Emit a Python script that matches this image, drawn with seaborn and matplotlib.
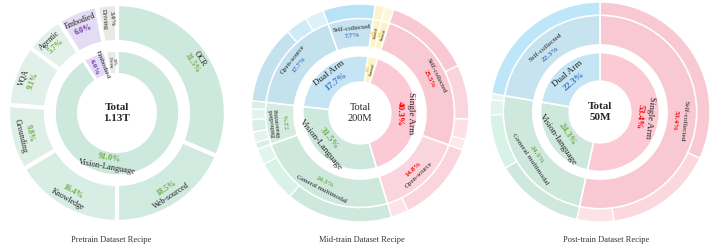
import numpy as np
import matplotlib
matplotlib.use("Agg")
import matplotlib.pyplot as plt
import seaborn as sns

sns.set_theme(style="white")
plt.rcParams['font.family'] = ['Liberation Serif', 'DejaVu Serif']

# ---------------- data ----------------
# Pretrain
pre_inner_names = ["Vision-Language", "Embodied", "Driving"]
pre_inner_vals = [91.0, 6.0, 3.0]
pre_inner_pct = ["91.0%", "6.0%", "3.0%"]
pre_outer_names = ["OCR", "Web-sourced", "Knowledge", "Grounding", "VQA", "Agentic", "Embodied", "Driving"]
pre_outer_vals = [31.5, 18.5, 16.4, 9.8, 9.1, 5.7, 6.0, 3.0]
pre_outer_pct = ["31.5%", "18.5%", "16.4%", "9.8%", "9.1%", "5.7%", "6.0%", "3.0%"]

# Mid-train
mid_inner_names = ["Humanoid", "Single Arm", "Vision-Language", "Dual Arm"]
mid_inner_vals = [2.8, 40.3, 31.5, 25.4]
mid_inner_pct = ["2.8%", "40.3%", "31.5%", "17.7%"]
mid_mid_names = ["Humanoid", "Humanoid", "Self-collected", "Open-source", "General multimodal",
                 "Embodied\nReasoning", "Open-source", "Self-collected"]
mid_mid_vals = [1.4, 1.4, 25.5, 14.8, 24.3, 7.2, 17.7, 7.7]
mid_mid_pct = ["1.4%", "1.4%", "25.5%", "14.8%", "24.3%", "7.2%", "17.7%", "7.7%"]
mid_outer_vals = [1.4, 1.4, 12.8, 8.1, 3.0, 1.6, 12.2, 2.6, 15.8, 6.1, 2.4,
                  1.0, 1.6, 1.8, 1.6, 1.2, 11.6, 3.3, 2.8, 7.7]

# Post-train
post_inner_names = ["Single Arm", "Vision-language", "Dual Arm"]
post_inner_vals = [53.4, 24.3, 22.3]
post_inner_pct = ["53.4%", "24.3%", "22.3%"]
post_mid_names = ["Self-collected", "General multimodal", "Self-collected"]
post_mid_vals = [53.4, 24.3, 22.3]
post_mid_pct = ["53.4%", "24.3%", "22.3%"]
post_outer_vals = [31.9, 16.1, 5.4, 13.1, 8.1, 2.2, 0.9, 22.3]

titles = ["Pretrain Dataset Recipe", "Mid-train Dataset Recipe", "Post-train Dataset Recipe"]
totals = ["Total\n1.13T", "Total\n200M", "Total\n50M"]

# ---------------- style ----------------
GREEN, PURPLE, BLUE, RED, YEL = "#70ad47", "#7030a0", "#4472c4", "#ff0000", "#ffc000"
PX = 110.0  # pixels per data unit


def ring(ax, vals, r_in, r_out, start, colors, lw):
    ax.pie(vals, radius=r_out, startangle=start, counterclock=False, colors=colors,
           wedgeprops=dict(width=r_out - r_in, edgecolor='white', linewidth=lw))


def mid_angles(vals, start):
    edges = start - 360 * np.cumsum([0] + list(vals)) / sum(vals)
    return (edges[:-1] + edges[1:]) / 2


def put_label(ax, ang, r, span, name, pct, pcol, size):
    arc = np.deg2rad(span) * r * PX
    radial = arc < 22
    nl = name.count("\n") + 1
    if radial:
        rot = (ang + 180) % 360 - 180
        if rot > 90:
            rot -= 180
        elif rot < -90:
            rot += 180
        size = min(size, arc / ((nl + 1) * 1.3) * 0.72)
    else:
        rot = (ang - 90 + 180) % 360 - 180
        if rot > 100:
            rot -= 180
        elif rot < -100:
            rot += 180
    a, t = np.deg2rad(ang), np.deg2rad(rot)
    p = np.array([np.cos(a), np.sin(a)]) * r
    up = np.array([-np.sin(t), np.cos(t)])
    lh = size * 1.15 * 100 / 72 / PX
    H = (nl + 1) * lh
    name_out = np.dot(up, [np.cos(a), np.sin(a)]) > 0
    sign = 1 if name_out else -1
    pn = p + sign * up * (H / 2 - nl * lh / 2)
    pp = p - sign * up * (H / 2 - lh / 2)
    kw = dict(rotation=rot, rotation_mode='anchor', ha='center', va='center')
    ax.text(pn[0], pn[1], name, fontsize=size, color="#222222", linespacing=1.0, **kw)
    ax.text(pp[0], pp[1], pct, fontsize=size, color=pcol, fontweight='bold', **kw)


def ring_labels(ax, names, vals, pcts, pcols, start, r, size, override=None):
    override = override or {}
    for i, m in enumerate(mid_angles(vals, start)):
        span = 360 * vals[i] / sum(vals)
        put_label(ax, override.get(i, m), r, span, names[i], pcts[i], pcols[i], size)


fig = plt.figure(figsize=(7.14, 2.48), dpi=100)
W, Hh = 714, 248


def make_ax(cx, cy):
    ax = fig.add_axes([(cx - PX) / W, (Hh - cy - PX) / Hh, 2 * PX / W, 2 * PX / Hh])
    return ax


# ---- Pretrain
ax = make_ax(117, 113)
ring(ax, pre_inner_vals, 0.35, 0.57, 90, ["#cde8dc", "#e3daf6", "#e9e9e5"], 2.2)
ring(ax, pre_outer_vals, 0.645, 0.99, 90,
     ["#cde8dc", "#d1eadf", "#d8ede3", "#deefe7", "#e1f0e8", "#e3f1ea", "#e4dcf5", "#e9e9e5"], 3.0)
ring_labels(ax, pre_inner_names, pre_inner_vals, pre_inner_pct, [GREEN, PURPLE, "#555555"],
            90, 0.46, 6.0, override={0: -100})
ring_labels(ax, pre_outer_names, pre_outer_vals, pre_outer_pct,
            [GREEN] * 6 + [PURPLE, "#555555"], 90, 0.86, 5.8)
ax.text(0, 0, totals[0], ha='center', va='center', fontsize=8, fontweight='bold', linespacing=1.3)

# ---- Mid-train
ax = make_ax(360, 113)
ring(ax, mid_inner_vals, 0.28, 0.52, 82, ["#fdf3c4", "#fbcad4", "#cfe8de", "#c5e5f5"], 1.2)
ring(ax, mid_mid_vals, 0.6, 0.86, 82,
     ["#fdf3c4", "#fdf3c4", "#f9c9d3", "#fbd5dd", "#cfe8de", "#d6ece2", "#c4e1ee", "#c6e3ef"], 1.2)
ring(ax, mid_outer_vals, 0.86, 0.99, 82,
     ["#fdf3c4", "#fef8d8",
      "#f9c9d3", "#fbd5dd", "#fde0e6", "#fde8ec",
      "#fbd5dd", "#fde3e8",
      "#cfe8de", "#d8f2e8", "#e1f5ed",
      "#d9efe6", "#e4f4ed", "#d9efe6", "#e4f4ed", "#d9efe6",
      "#c4e1ee", "#cdebf8", "#dff1f8",
      "#b8e3f6"], 1.0)
ring_labels(ax, mid_inner_names, mid_inner_vals, mid_inner_pct, [YEL, RED, GREEN, BLUE],
            82, 0.41, 6.6, override={2: -141})
ring_labels(ax, mid_mid_names, mid_mid_vals, mid_mid_pct,
            [YEL, YEL, RED, RED, GREEN, GREEN, BLUE, BLUE], 82, 0.74, 5.0)
ax.text(0, 0, totals[1], ha='center', va='center', fontsize=7.5, linespacing=1.3)

# ---- Post-train
ax = make_ax(600, 112)
ring(ax, post_inner_vals, 0.28, 0.54, 90, ["#fbcad4", "#cfe8de", "#c5e5f5"], 1.2)
ring(ax, post_mid_vals, 0.61, 0.88, 90, ["#f9c9d3", "#cfe8de", "#c6e3ef"], 1.2)
ring(ax, post_outer_vals, 0.88, 1.0, 90,
     ["#f9c9d3", "#fbd7de", "#fde3e8", "#cfe8de", "#d8f2e8", "#e2f4ed", "#e6f6f0", "#bde7f9"], 1.0)
ring_labels(ax, post_inner_names, post_inner_vals, post_inner_pct, [RED, GREEN, BLUE], 90, 0.41, 6.6)
ring_labels(ax, post_mid_names, post_mid_vals, post_mid_pct, [RED, GREEN, BLUE], 90, 0.73, 5.4)
ax.text(0, 0, totals[2], ha='center', va='center', fontsize=8, fontweight='bold', linespacing=1.3)

for a in fig.axes:
    a.set_xlim(-1, 1)
    a.set_ylim(-1, 1)
    a.axis('off')

for x, t in zip([111, 362, 606], titles):
    fig.text(x / W, 8 / Hh, t, ha='center', va='center', fontsize=6, color="#333333")

fig.savefig("out.png", dpi=100, facecolor='white')
